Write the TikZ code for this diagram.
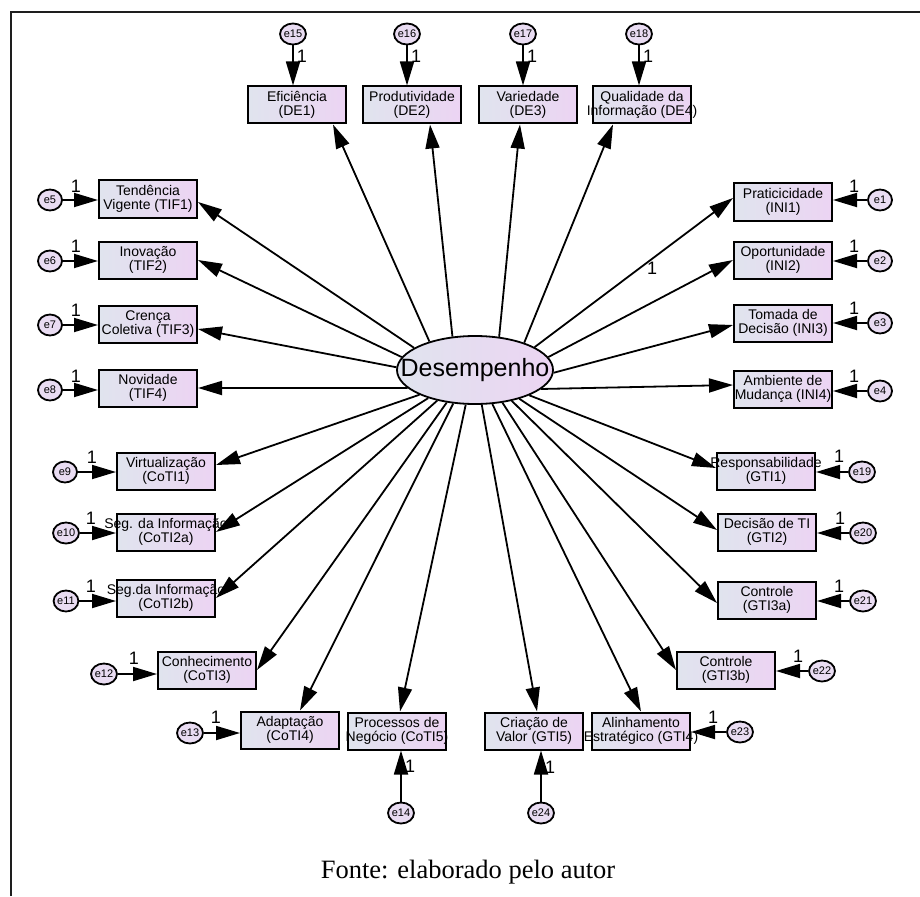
\documentclass[tikz,border=0pt]{standalone}
\usepackage{fontspec}
\setmainfont{Liberation Sans}
\newfontfamily\capfont{Liberation Serif}
\usetikzlibrary{arrows.meta,shapes.geometric}

\definecolor{boxL}{RGB}{224,228,238}
\definecolor{boxR}{RGB}{236,212,243}
\definecolor{errfill}{RGB}{233,220,242}
\definecolor{frameC}{RGB}{30,30,30}

\tikzset{
  obs/.style={draw=black, line width=2pt, minimum width=98pt, minimum height=37pt,
              inner sep=0pt, left color=boxL, right color=boxR},
  obstext/.style={font=\fontsize{14}{14.5}\selectfont, align=center, inner sep=0pt, text=black},
  err/.style={ellipse, draw=black, line width=1.8pt, minimum width=24pt, minimum height=21pt,
              inner sep=0pt, fill=errfill, font=\fontsize{11}{11}\selectfont},
  load/.style={line width=1.8pt, -{Triangle[length=24pt 0 0,width=14pt 0 0]}},
  one/.style={font=\fontsize{18}{18}\selectfont, inner sep=0pt, text=black},
}

% observed variable: box plus centred caption
\newcommand{\obsvar}[3]{%
  \node[obs] (#1) at (#2) {};
  \node[obstext] (#1t) at (#1) {#3};
}

\begin{document}
\begin{tikzpicture}[x=1pt,y=-1pt]
\useasboundingbox (0,0) rectangle (920,896);

% frame (top and left edges)
\coordinate (fa) at (11,896);
\coordinate (fb) at (11,12);
\coordinate (fc) at (920,12);
\draw[line width=2.2pt, frameC] (fa) -- (fb) -- (fc);

% latent variable
\node[ellipse, draw=black, line width=1.8pt, minimum width=156pt, minimum height=68pt,
      inner sep=0pt, left color=boxL, right color=boxR] (D) at (475,370) {};
\node[font=\fontsize{25}{25}\selectfont, inner sep=0pt] (Dt) at (D) {Desempenho};

% DE indicators
\obsvar{de1}{297,105}{Eficiência\\(DE1)}
\obsvar{de2}{412,105}{Produtividade\\(DE2)}
\obsvar{de3}{528,105}{Variedade\\(DE3)}
\obsvar{de4}{642,105}{Qualidade da\\Informação (DE4)}

% TIF indicators
\obsvar{tif1}{148,199}{Tendência\\Vigente (TIF1)}
\obsvar{tif2}{148,260}{Inovação\\(TIF2)}
\obsvar{tif3}{148,324}{Crença\\Coletiva (TIF3)}
\obsvar{tif4}{148,388}{Novidade\\(TIF4)}

% INI indicators
\obsvar{ini1}{783,202}{Praticicidade\\(INI1)}
\obsvar{ini2}{783,260}{Oportunidade\\(INI2)}
\obsvar{ini3}{783,323}{Tomada de\\Decisão (INI3)}
\obsvar{ini4}{783,389}{Ambiente de\\Mudança (INI4)}

% CoTI indicators
\obsvar{coti1}{166,471}{Virtualização\\(CoTI1)}
\obsvar{coti2a}{166,532}{Seg. da Informação\\(CoTI2a)}
\obsvar{coti2b}{166,598}{Seg.da Informação\\(CoTI2b)}
\obsvar{coti3}{207,670}{Conhecimento\\(CoTI3)}
\obsvar{coti4}{290,730}{Adaptação\\(CoTI4)}
\obsvar{coti5}{397,731}{Processos de\\Negócio (CoTI5)}

% GTI indicators
\obsvar{gti1}{766,471}{Responsabilidade\\(GTI1)}
\obsvar{gti2}{767,532}{Decisão de TI\\(GTI2)}
\obsvar{gti3a}{767,600}{Controle\\(GTI3a)}
\obsvar{gti3b}{726,670}{Controle\\(GTI3b)}
\obsvar{gti4}{641,731}{Alinhamento\\Estratégico (GTI4)}
\obsvar{gti5}{534,731}{Criação de\\Valor (GTI5)}

% error terms
\node[err] (e15) at (293,34) {e15};
\node[err] (e16) at (407,34) {e16};
\node[err] (e17) at (523,34) {e17};
\node[err] (e18) at (639,34) {e18};
\node[err] (e5) at (50,200) {e5};
\node[err] (e6) at (50,261) {e6};
\node[err] (e7) at (50,325) {e7};
\node[err] (e8) at (50,390) {e8};
\node[err] (e1) at (880,200) {e1};
\node[err] (e2) at (880,261) {e2};
\node[err] (e3) at (880,323) {e3};
\node[err] (e4) at (880,391) {e4};
\node[err] (e9) at (65,472) {e9};
\node[err] (e10) at (66,533) {e10};
\node[err] (e11) at (66,601) {e11};
\node[err] (e12) at (104,674) {e12};
\node[err] (e13) at (190,733) {e13};
\node[err] (e14) at (401,813) {e14};
\node[err] (e19) at (862,472) {e19};
\node[err] (e20) at (863,533) {e20};
\node[err] (e21) at (863,601) {e21};
\node[err] (e22) at (822,671) {e22};
\node[err] (e23) at (740,732) {e23};
\node[err] (e24) at (541,813) {e24};

% error paths
\draw[load] (e15) -- (e15 |- de1.north);
\draw[load] (e16) -- (e16 |- de2.north);
\draw[load] (e17) -- (e17 |- de3.north);
\draw[load] (e18) -- (e18 |- de4.north);
\draw[load] (e5) -- (e5 -| tif1.west);
\draw[load] (e6) -- (e6 -| tif2.west);
\draw[load] (e7) -- (e7 -| tif3.west);
\draw[load] (e8) -- (e8 -| tif4.west);
\draw[load] (e1) -- (e1 -| ini1.east);
\draw[load] (e2) -- (e2 -| ini2.east);
\draw[load] (e3) -- (e3 -| ini3.east);
\draw[load] (e4) -- (e4 -| ini4.east);
\draw[load] (e9) -- (e9 -| coti1.west);
\draw[load] (e10) -- (e10 -| coti2a.west);
\draw[load] (e11) -- (e11 -| coti2b.west);
\draw[load] (e12) -- (e12 -| coti3.west);
\draw[load] (e13) -- (e13 -| coti4.west);
\draw[load] (e14) -- (e14 |- coti5.south);
\draw[load] (e19) -- (e19 -| gti1.east);
\draw[load] (e20) -- (e20 -| gti2.east);
\draw[load] (e21) -- (e21 -| gti3a.east);
\draw[load] (e22) -- (e22 -| gti3b.east);
\draw[load] (e23) -- (e23 -| gti4.east);
\draw[load] (e24) -- (e24 |- gti5.south);

% fixed weights on error paths
\node[one] (w15) at (302,56) {1};
\node[one] (w16) at (416,56) {1};
\node[one] (w17) at (532,56) {1};
\node[one] (w18) at (648,56) {1};
\node[one] (w5) at (76,186) {1};
\node[one] (w6) at (76,246) {1};
\node[one] (w7) at (76,310) {1};
\node[one] (w8) at (76,376) {1};
\node[one] (w1) at (854,186) {1};
\node[one] (w2) at (854,246) {1};
\node[one] (w3) at (854,308) {1};
\node[one] (w4) at (854,376) {1};
\node[one] (w9) at (92,457) {1};
\node[one] (w10) at (91,518) {1};
\node[one] (w11) at (91,586) {1};
\node[one] (w12) at (134,658) {1};
\node[one] (w13) at (216,717) {1};
\node[one] (w14) at (410,766) {1};
\node[one] (w19) at (839,456) {1};
\node[one] (w20) at (840,518) {1};
\node[one] (w21) at (839,586) {1};
\node[one] (w22) at (798,656) {1};
\node[one] (w23) at (713,717) {1};
\node[one] (w24) at (550,767) {1};

% factor loadings
\draw[load] (D.148) -- ([xshift=36pt]de1.south);
\draw[load] (D.124) -- ([xshift=18pt]de2.south);
\draw[load] (D.54) -- ([xshift=-8pt]de3.south);
\draw[load] (D.29) -- ([xshift=-29pt]de4.south);
\draw[load] (D.160) -- ([yshift=-3pt]tif1.east);
\draw[load] (D.170) -- (tif2.east);
\draw[load] (D.178) -- ([yshift=-5pt]tif3.east);
\draw[load] (D.195) -- (tif4.east);
\draw[load] (D.21) -- ([yshift=4pt]ini1.west);
\draw[load] (D.10) -- (ini2.west);
\draw[load] (D.358) -- ([yshift=-2pt]ini3.west);
\draw[load] (D.344) -- ([yshift=4pt]ini4.west);
\draw[load] (D.204) -- ([yshift=6pt]coti1.east);
\draw[load] (D.211) -- (coti2a.east);
\draw[load] (D.219) -- (coti2b.east);
\draw[load] (D.229) -- (coti3.east);
\draw[load] (D.237) -- ([xshift=10pt]coti4.north);
\draw[load] (D.255) -- ([xshift=3pt]coti5.north);
\draw[load] (D.281) -- ([xshift=3pt]gti5.north);
\draw[load] (D.297) -- (gti4.north);
\draw[load] (D.335) -- ([yshift=3pt]gti1.west);
\draw[load] (D.327) -- ([yshift=2pt]gti2.west);
\draw[load] (D.320) -- ([yshift=-3pt]gti3a.west);
\draw[load] (D.310) -- (gti3b.west);

\node[one] (wini1) at (652,268) {1};

% source note
\node[font=\capfont\fontsize{26.5}{26.5}\selectfont, inner sep=0pt] (cap) at (468,872) {Fonte: elaborado pelo autor};
\end{tikzpicture}
\end{document}
